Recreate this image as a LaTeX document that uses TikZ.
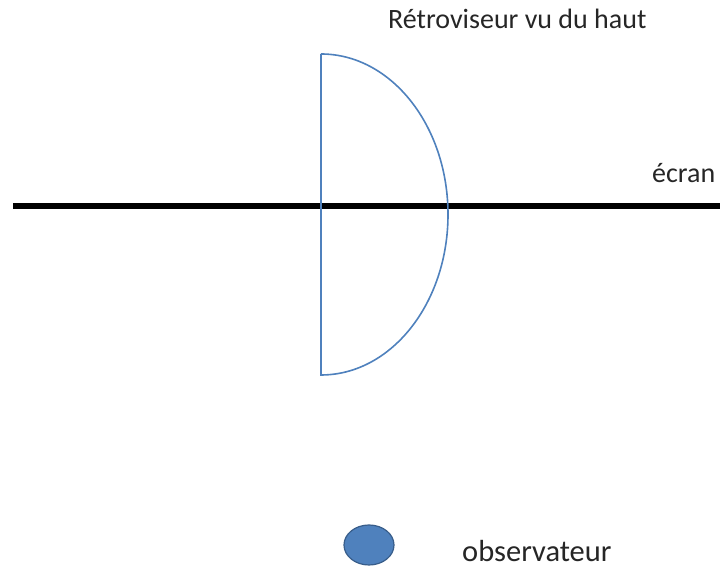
\documentclass[tikz,border=0pt]{standalone}
\usepackage{fontspec}
\setmainfont{Carlito}
\usetikzlibrary{positioning, shapes.geometric}
\definecolor{miroir}{HTML}{4F81BD}
\definecolor{bord}{HTML}{385D8A}

\begin{document}
\begin{tikzpicture}[x=1pt, y=1pt,
    texte/.style={anchor=base west, inner sep=0pt, font=\fontsize{28}{30}\selectfont, text=black!85}]

        \useasboundingbox (0,0) rectangle (720,569);

        % Ecran
        \draw[line width=6pt] (13,363) -- (720,363);

        % Retroviseur vu du haut (demi-ellipse)
        \draw[miroir, line width=1.6pt] (321,515) -- (321,194)
            arc[start angle=-90, end angle=90, x radius=127, y radius=160.5];

        % Observateur
        \node[ellipse, draw=bord, fill=miroir, line width=1.2pt,
              minimum width=50pt, minimum height=40pt, inner sep=0pt] (obs) at (369,24) {};

        % Textes
        \node[texte] (titre) at (388,540) {Rétroviseur vu du haut};
        \node[texte] (ecran) at (652,386) {écran};
        \node[texte, font=\fontsize{30.5}{32}\selectfont] (nomobs) at (462,7) {observateur};

\end{tikzpicture}
\end{document}
